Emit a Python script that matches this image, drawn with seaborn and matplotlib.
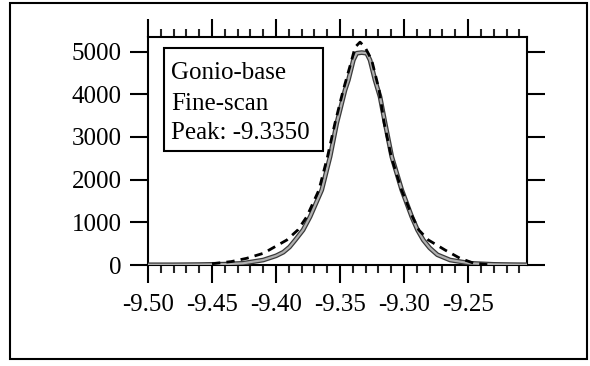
import numpy as np
import pandas as pd
import matplotlib
matplotlib.use("Agg")
import matplotlib.pyplot as plt
import matplotlib.patheffects as pe
from matplotlib.patches import Rectangle
from matplotlib.ticker import MultipleLocator, FixedLocator
import seaborn as sns

# ---- data ----
scan_x = [-9.500, -9.480, -9.460, -9.440, -9.4258, -9.4099, -9.4000, -9.3943, -9.3895,
          -9.3850, -9.3789, -9.3734, -9.3643, -9.3578, -9.3526, -9.3461, -9.3435,
          -9.3396, -9.3370, -9.3331, -9.3292, -9.3266, -9.3227, -9.3188, -9.3148,
          -9.3096, -9.3018, -9.2940, -9.2895, -9.2850, -9.2800, -9.2740, -9.2641,
          -9.2484, -9.2300, -9.2150, -9.2040]
scan_y = [5, 5, 10, 20, 40, 117, 215, 300, 420,
          585, 820, 1131, 1757, 2536, 3319, 4099, 4333,
          4801, 4960, 4975, 4960, 4801, 4333, 3942, 3319,
          2536, 1757, 1131, 820, 585, 400, 240, 117,
          40, 15, 8, 5]

fit_x = [-9.450, -9.435, -9.4229, -9.4099, -9.3916, -9.3830, -9.3760, -9.3665, -9.3598,
         -9.3540, -9.3475, -9.3409, -9.3383, -9.3344, -9.3305, -9.3253, -9.3195,
         -9.3155, -9.3100, -9.3020, -9.2935, -9.2885, -9.2810, -9.2680, -9.2563,
         -9.2460, -9.2350]
fit_y = [30, 80, 157, 274, 585, 820, 1131, 1757, 2536,
         3319, 4099, 4801, 5100, 5220, 5100, 4801, 4099,
         3319, 2536, 1757, 1131, 820, 585, 351, 157,
         47, 10]

y_ticks = [0, 1000, 2000, 3000, 4000, 5000]
x_ticks = [-9.50, -9.45, -9.40, -9.35, -9.30, -9.25]
x_tick_labels = ["-9.50", "-9.45", "-9.40", "-9.35", "-9.30", "-9.25"]
box_lines = ["Gonio-base", "Fine-scan", "Peak: -9.3350"]

# ---- style ----
sns.set_style("ticks")
plt.rcParams["font.family"] = ["Liberation Serif", "DejaVu Serif"]
plt.rcParams["xtick.direction"] = "out"
plt.rcParams["ytick.direction"] = "out"

fig = plt.figure(figsize=(5.9, 3.66), dpi=100)
fig.patch.set_facecolor("white")
ax = fig.add_axes([148/590, 1 - 265/366, 379/590, 228/366])

scan_df = pd.DataFrame({"x": scan_x, "y": scan_y})
fit_df = pd.DataFrame({"x": fit_x, "y": fit_y})

sns.lineplot(data=scan_df, x="x", y="y", ax=ax, color="#b0b0b0", linewidth=1.6,
             sort=False, zorder=3,
             path_effects=[pe.Stroke(linewidth=3.4, foreground="#3a3a3a"), pe.Normal()])
sns.lineplot(data=fit_df, x="x", y="y", ax=ax, color="black", linewidth=2.0,
             sort=False, zorder=4)
ax.lines[-1].set_dashes([3, 2.2])
for ln in ax.lines:
    ln.set_solid_joinstyle("round")

ax.set_xlim(-9.50, -9.204)
ax.set_ylim(0, 5340)
ax.set_xlabel("")
ax.set_ylabel("")

ax.xaxis.set_major_locator(FixedLocator(x_ticks))
ax.set_xticklabels(x_tick_labels)
ax.xaxis.set_minor_locator(MultipleLocator(0.01))
ax.yaxis.set_major_locator(FixedLocator(y_ticks))
ax.set_yticklabels([str(v) for v in y_ticks])

for s in ax.spines.values():
    s.set_visible(True)
    s.set_linewidth(1.5)
    s.set_color("black")

ax.tick_params(axis="x", which="major", top=True, bottom=True, length=13, width=1.5,
               labelsize=18, pad=8, colors="black")
ax.tick_params(axis="x", which="minor", top=True, bottom=True, length=6, width=1.5)
ax.tick_params(axis="y", which="major", left=True, right=True, length=13, width=1.5,
               labelsize=18, pad=6, colors="black")
ax.tick_params(axis="y", which="minor", left=False, right=False)

# annotation box
ax.add_patch(Rectangle((0.042, 0.50), 0.4195, 0.452, transform=ax.transAxes,
                       fill=False, edgecolor="black", linewidth=1.5, zorder=5))
for txt, yy in zip(box_lines, [0.816, 0.680, 0.553]):
    ax.text(0.062, yy, txt, transform=ax.transAxes, fontsize=18, va="baseline",
            ha="left", color="black", zorder=6)

# outer frame
fig.patches.append(Rectangle((10/590, 1 - 359/366), 577/590, 356/366,
                             transform=fig.transFigure, fill=False,
                             edgecolor="black", linewidth=1.5))

fig.savefig("out.png", dpi=100)
